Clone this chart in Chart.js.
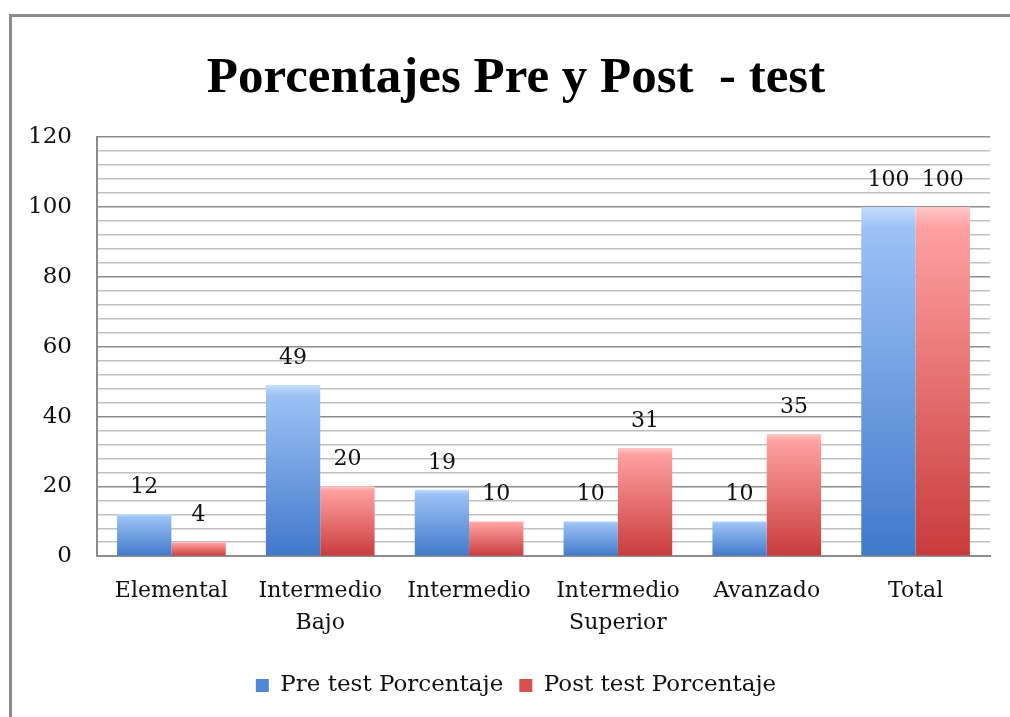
<!DOCTYPE html>
<html>
<head>
<meta charset="utf-8">
<script src="https://cdn.jsdelivr.net/npm/chart.js@4"></script>
<style>
  body { margin: 0; background: #fff; }
  #wrap { position: relative; width: 1010px; height: 717px; }
  #frame {
    position: absolute; left: 9px; top: 14px; width: 1010px; height: 720px;
    border-left: 3px solid #8c8c8c; border-top: 3px solid #8c8c8c;
    pointer-events: none;
  }
</style>
</head>
<body>
<div id="wrap">
  <canvas id="porcentajes" width="1010" height="717"></canvas>
  <div id="frame"></div>
</div>
<script>
const labels = [['Elemental'], ['Intermedio', 'Bajo'], ['Intermedio'], ['Intermedio', 'Superior'], ['Avanzado'], ['Total']];
const preTest = [12, 49, 19, 10, 10, 100];
const postTest = [4, 20, 10, 31, 35, 100];
const yTicks = [0, 20, 40, 60, 80, 100, 120];

const serif = 'DejaVu Serif';

// vertical gradient per bar, light on top
function barFill(stops) {
	return function(context) {
		const chart = context.chart;
		if (!chart.chartArea || !chart.scales.y) {
			return stops[2];
		}
		const y = chart.scales.y;
		const top = y.getPixelForValue(context.raw);
		const bottom = y.getPixelForValue(0);
		if (!isFinite(top) || bottom - top < 1) {
			return stops[2];
		}
		const g = chart.ctx.createLinearGradient(0, top, 0, bottom);
		g.addColorStop(0, stops[0]);
		g.addColorStop(0.06, stops[1]);
		g.addColorStop(1, stops[2]);
		return g;
	};
}

// value labels above the bars
const valueLabels = {
	id: 'valueLabels',
	afterLayout(chart) {
		// y axis is narrower than its labels; widen the label clip to the left
		chart.scales.y.left = 0;
	},
	afterDatasetsDraw(chart) {
		const ctx = chart.ctx;
		ctx.save();
		ctx.font = '22px "' + serif + '"';
		ctx.fillStyle = '#111';
		ctx.textAlign = 'center';
		ctx.textBaseline = 'middle';
		chart.data.datasets.forEach((ds, i) => {
			chart.getDatasetMeta(i).data.forEach((bar, j) => {
				ctx.fillText(ds.data[j], bar.x, bar.y - 27);
			});
		});
		ctx.restore();
	}
};

const data_pct = {
	labels: labels,
	datasets: [
		{
			label: 'Pre test Porcentaje',
			data: preTest,
			backgroundColor: barFill(['#c4ddfc', '#9cc2f6', '#4079ca']),
			borderWidth: 0,
		},
		{
			label: 'Post test Porcentaje',
			data: postTest,
			backgroundColor: barFill(['#ffc8c8', '#ffa0a0', '#c93b3b']),
			borderWidth: 0,
		},
	]
};

const config_pct = {
	type: 'bar',
	data: data_pct,
	plugins: [valueLabels],
	options: {
		responsive: false,
		animation: false,
		layout: {
			padding: { left: 42, right: 20, top: 48, bottom: 10 }
		},
		datasets: {
			bar: {
				categoryPercentage: 0.73,
				barPercentage: 1,
			}
		},
		plugins: {
			title: {
				display: true,
				text: 'Porcentajes Pre y Post  - test',
				color: '#000',
				font: { family: 'Liberation Serif', size: 51, weight: 'bold' },
				padding: { top: 0, bottom: 28 }
			},
			legend: {
				position: 'bottom',
				labels: {
					color: '#111',
					boxWidth: 13,
					boxHeight: 13,
					padding: 16,
					font: { family: serif, size: 23 },
					generateLabels(chart) {
						const fills = ['#4f88d6', '#d85050'];
						return chart.data.datasets.map((ds, i) => ({
							text: ds.label,
							fillStyle: fills[i],
							strokeStyle: fills[i],
							lineWidth: 0,
							fontColor: '#111',
							datasetIndex: i,
							hidden: false
						}));
					}
				}
			},
			tooltip: { enabled: false }
		},
		scales: {
			x: {
				grid: {
					display: false,
					drawTicks: false,
				},
				border: { color: '#8c8c8c', width: 2 },
				ticks: {
					color: '#111',
					padding: 19,
					font: { family: serif, size: 22, lineHeight: 1.45 }
				}
			},
			y: {
				min: 0,
				max: 120,
				// fixed width so the labels hang out to the left
				afterFit: (scale) => { scale.width = 55; },
				border: { color: '#8c8c8c', width: 2 },
				grid: {
					drawTicks: false,
					lineWidth: 1.5,
					color: (c) => (c.tick && yTicks.includes(c.tick.value)) ? '#8c8c8c' : '#c0c0c0'
				},
				ticks: {
					stepSize: 4,
					autoSkip: false,
					padding: 25,
					color: '#111',
					font: { family: serif, size: 23 },
					callback: (v) => yTicks.includes(v) ? v : ''
				}
			}
		}
	},
};

const porcentajes = new Chart(
	document.getElementById('porcentajes'),
	config_pct
);
</script>
</body>
</html>
